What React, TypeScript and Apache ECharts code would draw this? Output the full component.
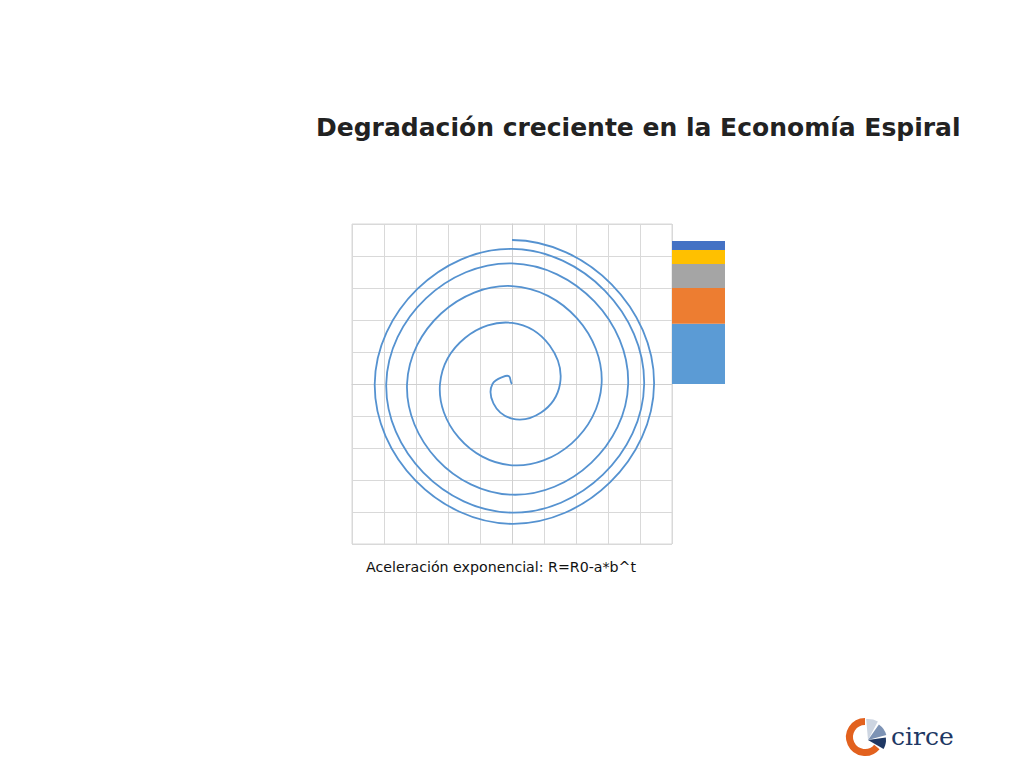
import React, { useEffect, useRef } from "react";
import * as echarts from "echarts";

// Spiral read at its axis crossings (angle in degrees, radius in grid units)
const spiralAngles = [0, 142, 180, 270, 360, 450, 540, 630, 720, 810, 900, 990, 1080, 1170, 1260, 1350, 1440, 1530, 1620, 1710, 1800, 1890];
const spiralRadii = [0, 0.36, 0.61, 1.08, 1.5, 1.91, 2.25, 2.54, 2.8, 3.06, 3.28, 3.46, 3.63, 3.77, 3.93, 4.02, 4.13, 4.22, 4.29, 4.37, 4.44, 4.5];

// Stacked bar components (bottom to top)
const barNames = ["c1", "c2", "c3", "c4", "c5"];
const barValues = [1.88, 1.12, 0.75, 0.44, 0.28];
const barColors = ["#5B9BD5", "#ED7D31", "#A5A5A5", "#FFC000", "#4472C4"];

const axisMin = -5;
const axisMax = 5;
const axisStep = 1;

const titleText = "Degradación creciente en la Economía Espiral";
const subtitleText = "Aceleración exponencial: R=R0-a*b^t";
const logoText = "circe";

const deg = (d: number) => (d * Math.PI) / 180;

export default function App() {
  const ref = useRef<HTMLDivElement>(null);

  useEffect(() => {
    if (!ref.current) return;
    const chart = echarts.init(ref.current, undefined, { renderer: "svg" });

    const n = spiralAngles.length;
    const th = spiralAngles.map(deg);
    const spiralData = spiralAngles.map((a, i) => [
      spiralRadii[i] * Math.cos(th[i]),
      spiralRadii[i] * Math.sin(th[i]),
    ]);
    // derivative dP/dtheta in data units
    const derivs = spiralData.map((p, i) => {
      if (i === 0) {
        const dt = th[1] - th[0];
        return [(spiralData[1][0] - p[0]) / dt, (spiralData[1][1] - p[1]) / dt];
      }
      const a = Math.max(0, i - 1);
      const b = Math.min(n - 1, i + 1);
      const rp = (spiralRadii[b] - spiralRadii[a]) / (th[b] - th[a]);
      const r = spiralRadii[i];
      const c = Math.cos(th[i]);
      const s = Math.sin(th[i]);
      return [rp * c - r * s, rp * s + r * c];
    });

    const renderSpiral = (params: any, api: any) => {
      if (params.dataIndex !== 0) return null;
      const pt = (x: number, y: number) => api.coord([x, y]);
      const p0 = pt(spiralData[0][0], spiralData[0][1]);
      let d = `M ${p0[0]} ${p0[1]}`;
      for (let i = 0; i < n - 1; i++) {
        const dt = th[i + 1] - th[i];
        const a = spiralData[i];
        const b = spiralData[i + 1];
        const c1 = pt(a[0] + (derivs[i][0] * dt) / 3, a[1] + (derivs[i][1] * dt) / 3);
        const c2 = pt(b[0] - (derivs[i + 1][0] * dt) / 3, b[1] - (derivs[i + 1][1] * dt) / 3);
        const e = pt(b[0], b[1]);
        d += ` C ${c1[0]} ${c1[1]} ${c2[0]} ${c2[1]} ${e[0]} ${e[1]}`;
      }
      return {
        type: "path",
        shape: { pathData: d },
        style: { stroke: "#5592D0", lineWidth: 1.8, fill: "none" },
      };
    };

    const gridLine = { lineStyle: { color: "#D9D9D9", width: 1 } };

    const option: any = {
      animation: false,
      backgroundColor: "#FFFFFF",
      grid: [
        { left: 352, top: 224, width: 320, height: 320, show: true, borderColor: "#D9D9D9", borderWidth: 1 },
        { left: 672, top: 224, width: 53, height: 320 },
      ],
      xAxis: [
        {
          type: "value",
          gridIndex: 0,
          min: axisMin,
          max: axisMax,
          interval: axisStep,
          axisLine: { show: true, onZero: true, lineStyle: { color: "#D0D0D0" } },
          axisTick: { show: false },
          axisLabel: { show: false },
          splitLine: { show: true, ...gridLine },
        },
        {
          type: "category",
          gridIndex: 1,
          data: ["R"],
          show: false,
        },
      ],
      yAxis: [
        {
          type: "value",
          gridIndex: 0,
          min: axisMin,
          max: axisMax,
          interval: axisStep,
          axisLine: { show: true, onZero: true, lineStyle: { color: "#D0D0D0" } },
          axisTick: { show: false },
          axisLabel: { show: false },
          splitLine: { show: true, ...gridLine },
        },
        {
          type: "value",
          gridIndex: 1,
          min: axisMin,
          max: axisMax,
          show: false,
          splitLine: { show: false },
        },
      ],
      series: [
        {
          type: "custom",
          coordinateSystem: "cartesian2d",
          xAxisIndex: 0,
          yAxisIndex: 0,
          data: spiralData,
          encode: { x: 0, y: 1 },
          renderItem: renderSpiral,
          silent: true,
        },
        ...barNames.map((nm, i) => ({
          type: "bar",
          name: nm,
          xAxisIndex: 1,
          yAxisIndex: 1,
          stack: "r",
          barWidth: "100%",
          data: [barValues[i]],
          itemStyle: { color: barColors[i] },
        })),
      ],
      graphic: [
        {
          type: "text",
          x: 316,
          y: 127,
          style: {
            text: titleText,
            fontFamily: "DejaVu Sans",
            fontWeight: "bold",
            fontSize: 25,
            fill: "#222222",
            align: "left",
            verticalAlign: "middle",
          },
        },
        {
          type: "text",
          x: 366,
          y: 567,
          style: {
            text: subtitleText,
            fontFamily: "DejaVu Sans",
            fontSize: 14.2,
            fill: "#111111",
            align: "left",
            verticalAlign: "middle",
          },
        },
        {
          type: "arc",
          shape: { cx: 865, cy: 737, r: 15.5, startAngle: deg(40), endAngle: deg(270), clockwise: true },
          style: { stroke: "#E2611E", lineWidth: 7, fill: "none" },
        },
        {
          type: "sector",
          shape: { cx: 868, cy: 740, r0: 0, r: 21, startAngle: deg(-95), endAngle: deg(-62), clockwise: true },
          style: { fill: "#CDD5E1" },
        },
        {
          type: "sector",
          shape: { cx: 868, cy: 740, r0: 0, r: 19, startAngle: deg(-55), endAngle: deg(-15), clockwise: true },
          style: { fill: "#7D93B5" },
        },
        {
          type: "sector",
          shape: { cx: 868, cy: 740, r0: 0, r: 18, startAngle: deg(-8), endAngle: deg(30), clockwise: true },
          style: { fill: "#1F3864" },
        },
        {
          type: "text",
          x: 891,
          y: 736,
          style: {
            text: logoText,
            fontFamily: "DejaVu Serif",
            fontSize: 25,
            fill: "#1F3864",
            align: "left",
            verticalAlign: "middle",
          },
        },
      ],
    };

    chart.setOption(option);
    return () => chart.dispose();
  }, []);

  return (
    <div
      ref={ref}
      style={{ position: "fixed", left: 0, top: 0, width: 1024, height: 768 }}
    />
  );
}
